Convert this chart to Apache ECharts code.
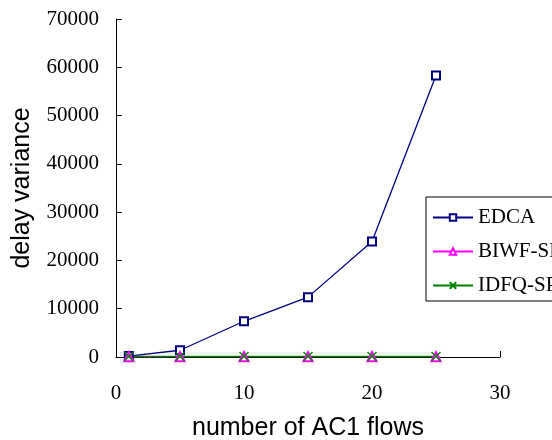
<!DOCTYPE html>
<html>
<head>
<meta charset="utf-8">
<script src="https://cdn.jsdelivr.net/npm/echarts@6/dist/echarts.min.js"></script>
<style>
  html, body { margin: 0; padding: 0; background: #fff; }
  #chart { width: 552px; height: 440px; }
</style>
</head>
<body>
<div id="chart"></div>
<script>
// x values (number of AC1 flows)
const flows = [1, 5, 10, 15, 20, 25];
// delay variance per scheme
const edca = [200, 1400, 7400, 12400, 23900, 58300];
const biwf = [50, 60, 60, 60, 60, 60];
const idfq = [100, 100, 100, 100, 100, 100];

const serif = '"Liberation Serif", "DejaVu Serif", serif';
const sans = '"Liberation Sans", Arial, sans-serif';

const pairs = (ys) => flows.map((x, i) => [x, ys[i]]);

let chart = echarts.init(document.getElementById('chart'));
chart.setOption({
    animation: false,
    grid: { left: 116, right: 52, top: 19, bottom: 83, outerBoundsMode: 'none' },
    legend: {
        orient: 'vertical',
        left: 426,
        top: 197,
        padding: [10, 30, 5, 6],
        itemGap: 13,
        itemWidth: 40,
        itemHeight: 8,
        backgroundColor: '#fff',
        borderColor: '#000',
        borderWidth: 1,
        textStyle: { fontFamily: serif, fontSize: 21, color: '#000' },
        data: ['EDCA', 'BIWF-SP', 'IDFQ-SP']
    },
    xAxis: {
        type: 'value',
        min: 0, max: 30, interval: 10,
        name: 'number of AC1 flows',
        nameLocation: 'middle',
        nameGap: 59,
        nameTextStyle: { fontFamily: sans, fontSize: 25, color: '#000' },
        axisLine: { lineStyle: { color: '#000', width: 1 } },
        axisTick: { inside: true, length: 6, lineStyle: { color: '#000' } },
        axisLabel: { margin: 26, fontFamily: serif, fontSize: 21, color: '#000' },
        splitLine: { show: false }
    },
    yAxis: {
        type: 'value',
        min: 0, max: 70000, interval: 10000,
        name: 'delay variance',
        nameLocation: 'middle',
        nameGap: 81,
        nameTextStyle: { fontFamily: sans, fontSize: 25, color: '#000' },
        axisLine: { show: true, lineStyle: { color: '#000', width: 1 } },
        axisTick: { show: true, inside: true, length: 6, lineStyle: { color: '#000' } },
        axisLabel: { margin: 17, fontFamily: serif, fontSize: 21, color: '#000', formatter: (v) => String(v) },
        splitLine: { show: false }
    },
    series: [
        {
            name: 'EDCA',
            type: 'line',
            data: pairs(edca),
            symbol: 'emptyRect',
            symbolSize: 8,
            lineStyle: { color: '#000080', width: 1.3 },
            itemStyle: { color: '#000080', borderColor: '#000080', borderWidth: 1.3 }
        },
        {
            name: 'BIWF-SP',
            type: 'line',
            data: pairs(biwf),
            symbol: 'emptyTriangle',
            symbolSize: 9,
            lineStyle: { color: '#ff00ff', width: 1.3 },
            itemStyle: { color: '#ff00ff', borderColor: '#ff00ff', borderWidth: 1.3 }
        },
        {
            name: 'IDFQ-SP',
            type: 'line',
            data: pairs(idfq),
            symbol: 'path://M0,0L10,10M10,0L0,10',
            symbolSize: 9,
            lineStyle: { color: '#008000', width: 1.3 },
            itemStyle: { color: '#008000', borderColor: '#008000', borderWidth: 1.3 }
        }
    ]
});
</script>
</body>
</html>
